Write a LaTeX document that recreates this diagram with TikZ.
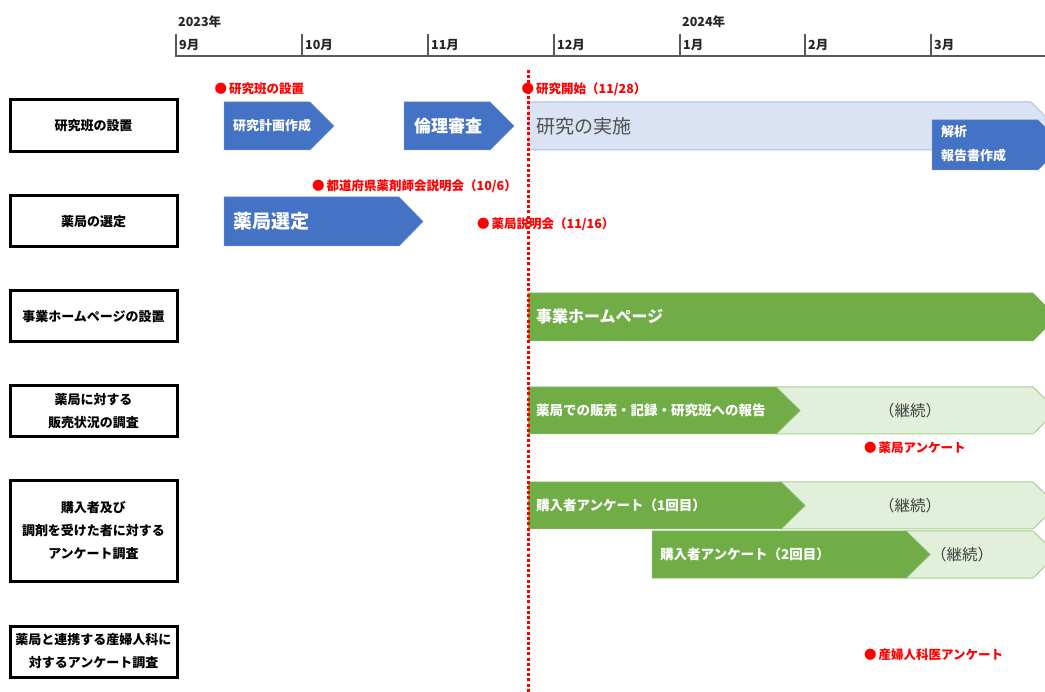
\documentclass[tikz,border=0pt]{standalone}
\usepackage{fontspec}
\setmainfont{Noto Sans CJK JP}
\definecolor{cblue}{HTML}{4472C4}
\definecolor{lblue}{HTML}{DAE3F3}
\definecolor{lbluebd}{HTML}{A9BEE4}
\definecolor{cgreen}{HTML}{70AD47}
\definecolor{lgreen}{HTML}{E2EFDA}
\definecolor{lgreenbd}{HTML}{A9D18E}
\definecolor{axisgray}{HTML}{595959}
\definecolor{txtgray}{HTML}{505050}
\newcommand{\bul}{●\hspace{2pt}}
\begin{document}
\begin{tikzpicture}[x=1pt,y=-1pt,
  catbox/.style={draw=black,line width=3pt,fill=white,minimum width=167pt,align=center,inner sep=0pt,font=\bfseries\fontsize{13}{23}\selectfont},
  axisline/.style={draw=axisgray,line width=1.6pt},
  monthlbl/.style={anchor=west,inner sep=0pt,font=\bfseries\fontsize{12.5}{15}\selectfont,text=black!85},
  redlbl/.style={anchor=west,inner sep=0pt,text=red,font=\bfseries\fontsize{12.5}{15}\selectfont},
  whitelbl/.style={anchor=west,inner sep=0pt,text=white,font=\bfseries\fontsize{13.5}{24}\selectfont,align=left},
  contlbl/.style={inner sep=0pt,text=txtgray!80!black,font=\fontsize{15.5}{18}\selectfont},
  bluebar/.style={fill=cblue,draw=cblue!80!white,line width=0.5pt},
  greenbar/.style={fill=cgreen,draw=cgreen!80!white,line width=0.5pt},
  lgreenbar/.style={fill=lgreen,draw=lgreenbd,line width=1pt},
  lbluebar/.style={fill=lblue,draw=lbluebd,line width=1pt},
  reddots/.style={draw=red,line width=3pt,dash pattern=on 3pt off 2.2pt}
]
\useasboundingbox (0,0) rectangle (1045,692);
\clip (0,0) rectangle (1045,692);

% ---- time axis ----
\draw[axisline] (175,56) -- (1045,56);
\foreach \tx in {176,302,428,554,680,805,931}{
  \draw[axisline] (\tx,34) -- (\tx,56);
}
\node[monthlbl] (y2023) at (178,22) {2023年};
\node[monthlbl] (y2024) at (682,22) {2024年};
\node[monthlbl] (m9)  at (179,45) {9月};
\node[monthlbl] (m10) at (305,45) {10月};
\node[monthlbl] (m11) at (431,45) {11月};
\node[monthlbl] (m12) at (557,45) {12月};
\node[monthlbl] (m1)  at (683,45) {1月};
\node[monthlbl] (m2)  at (808,45) {2月};
\node[monthlbl] (m3)  at (934,45) {3月};

% ---- category boxes ----
\node[catbox,minimum height=52pt] (c1) at (93.5,126) {研究班の設置};
\node[catbox,minimum height=51pt] (c2) at (93.5,221.5) {薬局の選定};
\node[catbox,minimum height=51pt] (c3) at (93.5,316.5) {事業ホームページの設置};
\node[catbox,minimum height=51pt] (c4) at (93.5,411.5) {薬局に対する\\販売状況の調査};
\node[catbox,minimum height=100pt] (c5) at (93.5,531) {購入者及び\\調剤を受けた者に対する\\アンケート調査};
\node[catbox,minimum height=51pt] (c6) at (93.5,651.5) {薬局と連携する産婦人科に\\対するアンケート調査};

% ---- row 1 ----
\path[bluebar] (224,102) -- (310,102) -- (334,126) -- (310,150) -- (224,150) -- cycle;
\node[whitelbl,font=\bfseries\fontsize{13}{15}\selectfont] (a1) at (233,126) {研究計画作成};
\path[bluebar] (404,102) -- (490,102) -- (514,126) -- (490,150) -- (404,150) -- cycle;
\node[whitelbl,font=\bfseries\fontsize{17}{20}\selectfont] (a2) at (414,126) {倫理審査};
\path[lbluebar] (528,102) -- (1031,102) -- (1055,126) -- (1031,150) -- (528,150) -- cycle;
\node[anchor=west,inner sep=0pt,text=txtgray,font=\fontsize{19}{22}\selectfont] (a3) at (536,126) {研究の実施};
\path[bluebar] (932,120) -- (1038,120) -- (1063,145) -- (1038,170) -- (932,170) -- cycle;
\node[whitelbl,font=\bfseries\fontsize{13}{24}\selectfont] (a4) at (941,144) {解析\\報告書作成};

% ---- row 2 ----
\path[bluebar] (224,197) -- (399,197) -- (423,221.5) -- (399,246) -- (224,246) -- cycle;
\node[whitelbl,font=\bfseries\fontsize{19}{22}\selectfont] (b1) at (233,221.5) {薬局選定};

% ---- row 3 ----
\path[greenbar] (528,293) -- (1033,293) -- (1057,317) -- (1033,341) -- (528,341) -- cycle;
\node[whitelbl,font=\bfseries\fontsize{16}{19}\selectfont] (g1) at (536,316) {事業ホームページ};

% ---- row 4 ----
\path[lgreenbar] (776,387) -- (1033,387) -- (1057,410.5) -- (1033,434) -- (776,434) -- (800,410.5) -- cycle;
\path[greenbar] (528,387) -- (776,387) -- (800,410.5) -- (776,434) -- (528,434) -- cycle;
\node[whitelbl] (g2) at (536,410.5) {薬局での販売・記録・研究班への報告};
\node[contlbl] (k1) at (910,410.5) {（継続）};

% ---- row 5 ----
\path[lgreenbar] (781,482) -- (1033,482) -- (1057,505.5) -- (1033,529) -- (781,529) -- (805,505.5) -- cycle;
\path[greenbar] (528,482) -- (781,482) -- (805,505.5) -- (781,529) -- (528,529) -- cycle;
\node[whitelbl] (g3) at (536,505.5) {購入者アンケート（1回目）};
\node[contlbl] (k2) at (910,505.5) {（継続）};
\path[lgreenbar] (906,531) -- (1033,531) -- (1057,554.5) -- (1033,578) -- (906,578) -- (930,554.5) -- cycle;
\path[greenbar] (652,531) -- (906,531) -- (930,554.5) -- (906,578) -- (652,578) -- cycle;
\node[whitelbl] (g4) at (660,554.5) {購入者アンケート（2回目）};
\node[contlbl] (k3) at (962,554.5) {（継続）};

% ---- red milestones ----
\node[redlbl] (r1) at (214.5,89) {\bul 研究班の設置};
\node[redlbl] (r2) at (521.5,89) {\bul 研究開始（11/28）};
\node[redlbl] (r3) at (312,186) {\bul 都道府県薬剤師会説明会（10/6）};
\node[redlbl] (r4) at (477,224) {\bul 薬局説明会（11/16）};
\node[redlbl] (r5) at (864,448) {\bul 薬局アンケート};
\node[redlbl] (r6) at (864,655) {\bul 産婦人科医アンケート};

% ---- dotted start line ----
\coordinate (ltop) at (528,70);
\coordinate (lbot) at (528,692);
\draw[reddots] (ltop) -- (lbot);
\end{tikzpicture}
\end{document}
